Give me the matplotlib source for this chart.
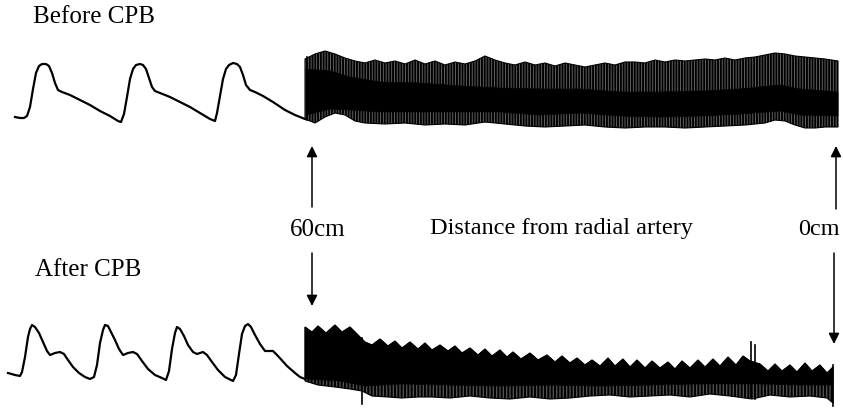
import numpy as np
import matplotlib
matplotlib.use("Agg")
import matplotlib.pyplot as plt

plt.rcParams['font.family'] = ['Liberation Serif', 'DejaVu Serif']
plt.rcParams['hatch.linewidth'] = 1.4

# --- pulse waveforms (time, pressure trace) ---
pre_t = [15, 20, 24, 27, 30, 33, 36, 39, 42, 46, 49, 52, 55, 58, 62, 70, 80, 90, 100, 110, 118, 121,
         124, 127, 130, 133, 136, 140, 143, 146, 149, 152, 155, 160, 170, 180, 190, 200, 210, 215,
         217, 220, 223, 226, 229, 233, 237, 240, 243, 246, 250, 255, 263, 273, 285, 295, 305]
pre_p = [118, 119, 119, 117, 108, 90, 74, 67, 65, 65, 67, 74, 84, 91, 93, 96, 101, 106, 112, 117, 122, 123,
         115, 98, 80, 70, 66, 65, 66, 70, 79, 88, 92, 94, 98, 103, 108, 114, 120, 122,
         114, 97, 80, 70, 66, 64, 65, 68, 76, 86, 91, 93, 97, 103, 111, 116, 120]

post_t = [8, 15, 20, 22, 25, 28, 30, 32, 35, 39, 43, 47, 50, 55, 60, 64, 68, 73, 79, 85, 90,
          94, 97, 100, 103, 105, 108, 111, 115, 119, 123, 128, 133, 137, 142, 148, 155, 162, 166,
          169, 172, 175, 177, 180, 184, 188, 193, 197, 203, 207, 212, 218, 225, 233,
          236, 239, 242, 245, 248, 251, 255, 260, 265, 273, 278, 287, 295, 300, 305]
post_p = [374, 376, 377, 373, 358, 338, 330, 326, 328, 334, 343, 352, 356, 354, 353, 355, 361, 368, 374, 378, 380,
          378, 366, 344, 331, 326, 327, 333, 341, 350, 356, 354, 353, 355, 362, 370, 376, 379, 381,
          372, 350, 334, 328, 330, 337, 346, 353, 355, 353, 356, 363, 371, 378, 382,
          376, 355, 335, 327, 325, 328, 336, 345, 352, 352, 357, 367, 374, 378, 380]

# --- pull-back recordings: envelope of the dense trace ---
pre_top_t = [305, 315, 325, 335, 345, 355, 365, 375, 385, 395, 405, 415, 425, 435, 445, 455, 465, 475,
             485, 495, 505, 515, 525, 535, 545, 555, 565, 575, 585, 595, 605, 615, 625, 635, 645, 655,
             665, 675, 685, 695, 705, 715, 725, 735, 745, 755, 765, 775, 785, 795, 805, 815, 825, 838]
pre_top = [60, 55, 52, 55, 59, 62, 64, 61, 64, 62, 65, 61, 65, 62, 66, 63, 65, 62,
           57, 61, 64, 66, 63, 66, 64, 67, 64, 66, 68, 66, 64, 66, 63, 63, 64, 61,
           63, 61, 62, 61, 60, 61, 59, 61, 59, 58, 56, 54, 55, 57, 58, 59, 60, 62]
pre_bot_t = [305, 315, 325, 335, 345, 355, 365, 385, 405, 425, 445, 465, 485, 505, 525, 545, 565,
             585, 605, 625, 645, 665, 685, 705, 725, 745, 765, 775, 785, 795, 805, 815, 825, 838]
pre_bot = [120, 124, 118, 114, 116, 122, 124, 125, 124, 126, 125, 126, 123, 125, 127, 128, 127,
           126, 128, 129, 128, 128, 129, 128, 127, 126, 124, 121, 122, 126, 129, 129, 128, 128]
pre_core_t = [306, 330, 350, 380, 420, 460, 500, 540, 580, 620, 660, 700, 740, 780, 800, 838]
pre_core_hi = [70, 72, 78, 83, 84, 87, 89, 90, 90, 93, 93, 92, 90, 86, 90, 93]
pre_core_lo = [116, 110, 111, 113, 113, 113, 113, 116, 114, 117, 118, 117, 115, 112, 116, 117]

post_top_t = [305, 312, 318, 326, 335, 342, 350, 358, 365, 372, 380, 388, 395, 402, 410, 418, 425, 432,
              440, 448, 455, 462, 470, 478, 485, 492, 500, 507, 513, 521, 530, 538, 547, 555, 562, 570,
              577, 585, 592, 600, 608, 615, 623, 630, 637, 645, 652, 660, 668, 675, 682, 690, 698, 705,
              713, 720, 728, 736, 743, 750, 760, 768, 775, 782, 790, 797, 805, 812, 820, 827, 833]
post_top = [328, 333, 327, 334, 326, 333, 328, 336, 343, 346, 340, 347, 342, 349, 343, 350, 344, 351,
            346, 352, 347, 354, 349, 356, 350, 357, 351, 358, 353, 360, 354, 361, 356, 363, 357, 364,
            359, 366, 361, 367, 359, 367, 360, 368, 361, 369, 362, 369, 363, 370, 362, 369, 361, 368,
            360, 367, 358, 366, 357, 362, 365, 372, 365, 372, 366, 373, 364, 372, 366, 374, 368]
post_bot_t = [305, 318, 335, 350, 362, 372, 388, 402, 418, 432, 450, 470, 490, 510, 530, 550, 570,
              590, 610, 630, 650, 670, 690, 710, 730, 752, 770, 790, 810, 827, 833]
post_bot = [382, 386, 388, 390, 392, 397, 398, 399, 398, 398, 399, 397, 399, 400, 398, 400, 399,
            397, 396, 398, 397, 396, 398, 395, 397, 400, 396, 398, 397, 399, 404]
post_core_t = [833, 800, 760, 700, 650, 600, 550, 500, 450, 400, 365, 340, 305]
post_core_lo = [386, 386, 385, 385, 386, 387, 386, 387, 386, 385, 387, 382, 380]

# artefact spikes in the recordings (position, top, bottom)
spike_t = [307, 362, 751, 755, 833]
spike_top = [58, 339, 343, 346, 366]
spike_bot = [121, 405, 398, 400, 407]

fig = plt.figure(figsize=(8.43, 4.10), dpi=100)
ax = fig.add_axes([0, 0, 1, 1])
ax.set_xlim(0, 843)
ax.set_ylim(410, 0)
ax.axis('off')

ax.plot(pre_t, pre_p, color='black', lw=1.6)
ax.plot(post_t, post_p, color='black', lw=1.6)

# before CPB band: striped outer envelope, solid core
ax.fill(np.concatenate([pre_top_t, pre_bot_t[::-1]]), np.concatenate([pre_top, pre_bot[::-1]]),
        facecolor='#707070', edgecolor='black', hatch='||||||', lw=0.8)
ax.fill(np.concatenate([pre_core_t, pre_core_t[::-1]]), np.concatenate([pre_core_hi, pre_core_lo[::-1]]),
        facecolor='black', edgecolor='black', lw=0.5)

# after CPB band: mostly solid, lower part striped
ax.fill(np.concatenate([post_top_t, post_bot_t[::-1]]), np.concatenate([post_top, post_bot[::-1]]),
        facecolor='#505050', edgecolor='black', hatch='|||||', lw=0.8)
ax.fill(np.concatenate([post_top_t, post_core_t]), np.concatenate([post_top, post_core_lo]),
        facecolor='black', edgecolor='black', lw=0.5)

for t, a, b in zip(spike_t, spike_top, spike_bot):
    ax.plot([t, t], [a, b], color='black', lw=1.2)

# labels
ax.text(33, 17, 'Before CPB', fontsize=18, ha='left', va='center')
ax.text(35, 270, 'After CPB', fontsize=18, ha='left', va='center')
ax.text(318, 230, '60cm', fontsize=18, ha='center', va='center')
ax.text(430, 229, 'Distance from radial artery', fontsize=17.5, ha='left', va='center')
ax.text(840, 230, '0cm', fontsize=17.5, ha='right', va='center')

arrow_kw = dict(arrowstyle='-|>', color='black', lw=1.1, mutation_scale=16, shrinkA=0, shrinkB=0)
ax.annotate('', xy=(312, 147), xytext=(312, 208), arrowprops=arrow_kw)
ax.annotate('', xy=(312, 307), xytext=(312, 254), arrowprops=arrow_kw)
ax.annotate('', xy=(836, 147), xytext=(836, 210), arrowprops=arrow_kw)
ax.annotate('', xy=(834, 345), xytext=(834, 254), arrowprops=arrow_kw)

fig.savefig('out.png', dpi=100, facecolor='white')
